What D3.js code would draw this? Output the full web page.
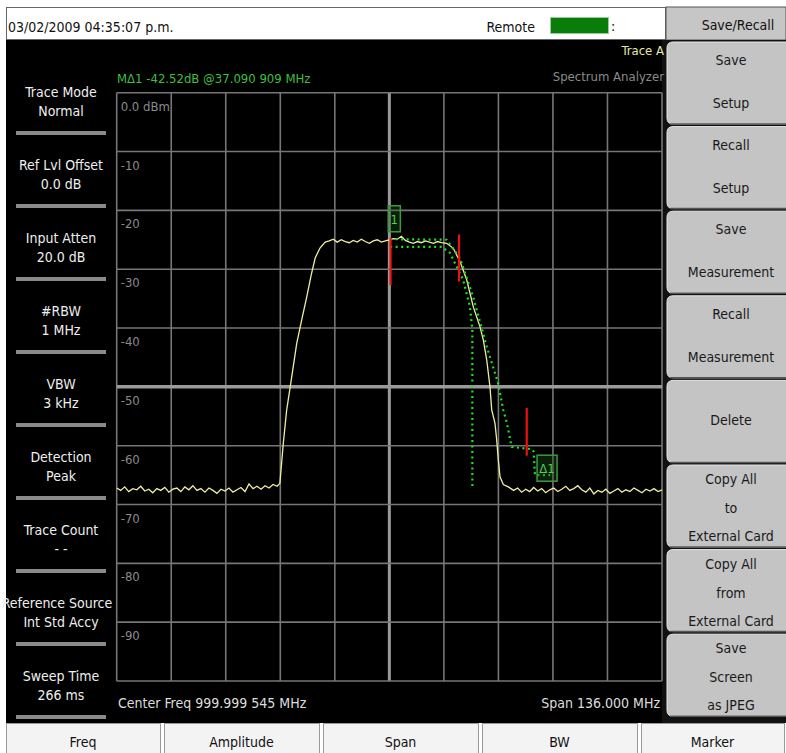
<!DOCTYPE html>
<html><head><meta charset="utf-8">
<script src="https://cdn.jsdelivr.net/npm/d3@7"></script>
<style>
html,body{margin:0;padding:0;background:#fff;}
svg{display:block;}
text{font-family:"Liberation Sans Narrow","Arial Narrow","DejaVu Sans Condensed",sans-serif;}
</style></head><body>
<svg id="c" width="786" height="753"></svg>
<script>
// ---------------- data ----------------
const dateText = "03/02/2009 04:35:07 p.m.";
const centerFreqMHz = 999.999545;
const spanMHz = 136.0;
const yTickValues = [0, -10, -20, -30, -40, -50, -60, -70, -80, -90];
const yTickLabels = ["0.0 dBm", "-10", "-20", "-30", "-40", "-50", "-60", "-70", "-80", "-90"];

// yellow trace: frequency offset from center (MHz) and amplitude (dBm)
const traceOffset = [
  -68,-67,-66,-65,-64,-63,-62,-61,-60,-59,-58,-57,-56,-55,-54,-53,-52,-51,-50,-49,
  -48,-47,-46,-45,-44,-43,-42,-41,-40,-39,-38,-37,-36,-35,-34,-33,-32,-31,-30,-29,-28,
  -27.3,-26.45,-25.6,-24.35,-23.1,-21.86,-20.6,-19.5,-18.5,-17.3,-16.0,
  -15,-14,-13,-12,-11,-10,-9,-8,-7,-6,-5,-4,-3,-2,-1,0,1,2,3,4,5,6,7,8,9,10,11,12,13,14.3,
  15.95,17.62,19.29,20.94,22.61,23.43,24.28,25.1,25.53,26.35,26.77,27.17,27.6,28.42,29.66,
  31,32,33,34,35,36,37,38,39,40,41,42,43,44,45,46,47,48,49,50,
  51,52,53,54,55,56,57,58,59,60,61,62,63,64,65,66,67,68
];
const traceAmp = [
  -67.2,-67.6,-67.0,-67.8,-67.3,-67.5,-66.9,-67.7,-67.4,-68.0,-67.3,-67.6,-67.1,-67.9,-67.4,-67.2,-67.8,-67.0,-67.5,-66.8,
  -67.6,-67.3,-67.9,-67.2,-67.6,-68.1,-67.4,-67.7,-67.2,-67.9,-67.5,-67.1,-67.8,-66.5,-67.3,-66.9,-67.4,-66.8,-67.2,-66.6,-66.9,
  -66.4,-59.6,-53.9,-48.3,-42.6,-38.6,-34.7,-31.0,-28.1,-26.4,-25.4,
  -25.2,-24.9,-25.4,-25.0,-25.3,-25.5,-25.1,-25.4,-24.9,-25.3,-25.6,-25.2,-25.0,-25.4,-25.2,-25.0,-24.8,-24.9,-24.4,-25.1,-25.4,-25.6,-25.3,-25.5,-25.2,-25.4,-25.6,-25.3,-25.5,-25.6,
  -26.45,-28.7,-31.8,-36.4,-39.8,-42.0,-45.4,-50.0,-53.9,-56.2,-59.0,-62.4,-65.3,-66.6,-67.0,
  -67.6,-67.2,-67.9,-67.4,-67.8,-67.1,-67.7,-67.3,-68.0,-67.5,-67.2,-67.8,-67.4,-66.9,-67.6,-67.3,-66.8,-67.5,-67.9,-67.2,
  -68.2,-67.6,-67.9,-67.4,-68.1,-67.7,-67.3,-67.9,-67.5,-67.8,-67.2,-67.6,-68.0,-67.4,-67.7,-67.3,-67.8,-67.5
];

// green dotted limit lines
const limitAOffset = [0.2, 14.3, 17.6, 20.9, 24.3, 27.1, 28.4, 29.3, 30.5, 35.5, 36.0, 36.3, 40.1];
const limitAAmp    = [-24.9, -25.0, -28.1, -34.7, -43.2, -49.3, -53.9, -56.1, -60.2, -60.6, -61.0, -65.0, -65.0];
const limitBOffset = [0.2, 13.0, 15.1, 16.8, 18.4, 20.1, 20.7, 20.7];
const limitBAmp    = [-26.2, -26.2, -27.2, -29.6, -31.8, -36.4, -40.3, -67.2];

// red marker bars
const barOffset = [0.3, 17.37, 34.26];
const barTop    = [-24.7, -24.1, -53.6];
const barBottom = [-32.7, -32.1, -61.7];

// markers
const markerNames  = ["1", "\u03941"];
const markerOffset = [0, 37.090909];
const markerAmp    = [-25.0, -67.4];
const markerReadout = "M\u03941 -42.52dB @37.090 909 MHz";

// left settings panel
const settingTitles = ["Trace Mode", "Ref Lvl Offset", "Input Atten", "#RBW", "VBW", "Detection", "Trace Count", "Reference Source", "Sweep Time"];
const settingValues = ["Normal", "0.0 dB", "20.0 dB", "1 MHz", "3 kHz", "Peak", "- -", "Int Std Accy", "266 ms"];

// right soft keys
const menuTitle = "Save/Recall";
const softKeys = [["Save", "Setup"], ["Recall", "Setup"], ["Save", "Measurement"], ["Recall", "Measurement"],
  ["Delete"], ["Copy All", "to", "External Card"], ["Copy All", "from", "External Card"], ["Save", "Screen", "as JPEG"]];
// bottom tabs
const tabNames = ["Freq", "Amplitude", "Span", "BW", "Marker"];

// ---------------- drawing ----------------
(function () {
const svg = d3.select("#c");
const W = 786, H = 753;
svg.append("rect").attr("width", W).attr("height", H).attr("fill", "#fff");

// black display area
svg.append("rect").attr("x", 6).attr("y", 40).attr("width", 660).attr("height", 683).attr("fill", "#000");

// top bar
svg.append("rect").attr("x", 6.5).attr("y", 7.5).attr("width", 659).attr("height", 32).attr("fill", "#fff").attr("stroke", "#666");
svg.append("text").attr("x", 8).attr("y", 32).attr("font-size", 14).attr("fill", "#111").text(dateText);
svg.append("text").attr("x", 535).attr("y", 32).attr("font-size", 14).attr("fill", "#111").attr("text-anchor", "end").text("Remote");
svg.append("rect").attr("x", 550.5).attr("y", 17.5).attr("width", 58).attr("height", 16).attr("fill", "#0a7c0a").attr("stroke", "#9c9");
svg.append("text").attr("x", 611).attr("y", 31).attr("font-size", 14).attr("fill", "#111").text(":");

// right panel
const rp = svg.append("g");
rp.append("rect").attr("x", 666).attr("y", 7).attr("width", 120).attr("height", 33).attr("fill", "#c6c6c6").attr("stroke", "#555");
rp.append("rect").attr("x", 662).attr("y", 40).attr("width", 124).attr("height", 683).attr("fill", "#111");
rp.append("text").attr("x", 738).attr("y", 30).attr("font-size", 14).attr("text-anchor", "middle").attr("fill", "#111").text(menuTitle);
const keyStep = 84.6, keyTop = 42;
const lineOffsets = {1: [40], 2: [18, 61], 3: [14, 43, 71]};
softKeys.forEach((lines, i) => {
  const y0 = keyTop + i * keyStep;
  const g = rp.append("g");
  g.append("path")
    .attr("d", `M${667 + 6},${y0} H790 V${y0 + 82} H${667 + 6} Q667,${y0 + 82} 667,${y0 + 76} V${y0 + 6} Q667,${y0} ${667 + 6},${y0} Z`)
    .attr("fill", "#c4c4c4").attr("stroke", "#e8e8e8").attr("stroke-width", 1);
  g.append("line").attr("x1", 670).attr("x2", 786).attr("y1", y0 + 82).attr("y2", y0 + 82).attr("stroke", "#555").attr("stroke-width", 1.5);
  lines.forEach((t, j) => {
    g.append("text").attr("x", 731).attr("y", y0 + lineOffsets[lines.length][j] + 5)
      .attr("font-size", 14).attr("text-anchor", "middle").attr("fill", "#1a1a1a").text(t);
  });
});

// bottom tabs
const tabEdges = [6, 162, 321, 480, 639, 786];
tabNames.forEach((t, i) => {
  const x0 = tabEdges[i] + (i ? 2 : 0), x1 = tabEdges[i + 1] - 2;
  svg.append("rect").attr("x", x0 + 0.5).attr("y", 723.5).attr("width", x1 - x0).attr("height", 30)
    .attr("fill", "#f3f3f3").attr("stroke", "#999");
  svg.append("text").attr("x", (x0 + x1) / 2).attr("y", 747).attr("font-size", 14).attr("text-anchor", "middle").attr("fill", "#111").text(t);
});

// left settings panel
settingTitles.forEach((t, i) => {
  const sep = 133 + i * 73;
  const cx = t.length > 14 ? 57 : 61;
  svg.append("text").attr("x", cx).attr("y", sep - 36).attr("font-size", 14).attr("text-anchor", "middle").attr("fill", "#eee").text(t);
  svg.append("text").attr("x", 61).attr("y", sep - 17).attr("font-size", 14).attr("text-anchor", "middle").attr("fill", "#eee").text(settingValues[i]);
  svg.append("rect").attr("x", 16).attr("y", sep - 2).attr("width", 90).attr("height", 4).attr("fill", "#8a8a8a");
});

// plot
const pLeft = 116.7, pRight = 662, pTop = 92.7, pBottom = 681;
const x = d3.scaleLinear().domain([-spanMHz / 2, spanMHz / 2]).range([pLeft, pRight]);
const y = d3.scaleLinear().domain([-100, 0]).range([pBottom, pTop]);
const plot = svg.append("g");
const xGrid = d3.range(0, 11).map(i => -spanMHz / 2 + i * spanMHz / 10);
const yGrid = d3.range(0, 11).map(i => -i * 10);
plot.selectAll(".vg").data(xGrid).join("line")
  .attr("x1", d => x(d)).attr("x2", d => x(d)).attr("y1", pTop).attr("y2", pBottom)
  .attr("stroke", d => Math.abs(d) < 1e-6 ? "#9a9a9a" : "#767676")
  .attr("stroke-width", d => Math.abs(d) < 1e-6 ? 3 : 1.6);
plot.selectAll(".hg").data(yGrid).join("line")
  .attr("y1", d => y(d)).attr("y2", d => y(d)).attr("x1", pLeft).attr("x2", pRight)
  .attr("stroke", d => d === -50 ? "#9a9a9a" : "#767676")
  .attr("stroke-width", d => d === -50 ? 3.5 : 1.6);
plot.selectAll(".yl").data(yTickValues).join("text")
  .attr("x", pLeft + 4).attr("y", d => y(d) + 18).attr("font-size", 13).attr("fill", "#8a8a8a")
  .text((d, i) => yTickLabels[i]);

svg.append("text").attr("x", 117).attr("y", 83).attr("font-size", 13).attr("fill", "#3fbf3f").text(markerReadout);
svg.append("text").attr("x", 664).attr("y", 55).attr("font-size", 13).attr("text-anchor", "end").attr("fill", "#e6e6a8").text("Trace A");
svg.append("text").attr("x", 664).attr("y", 81).attr("font-size", 13).attr("text-anchor", "end").attr("fill", "#8a8a8a").text("Spectrum Analyzer");
svg.append("text").attr("x", 118).attr("y", 708).attr("font-size", 14).attr("fill", "#ddd").text("Center Freq 999.999 545 MHz");
svg.append("text").attr("x", 660).attr("y", 708).attr("font-size", 14).attr("text-anchor", "end").attr("fill", "#ddd").text("Span 136.000 MHz");

const line = d3.line().x(d => x(d[0])).y(d => y(d[1]));
const limA = limitAOffset.map((o, i) => [o, limitAAmp[i]]);
const limB = limitBOffset.map((o, i) => [o, limitBAmp[i]]);
const trace = traceOffset.map((o, i) => [o, traceAmp[i]]);

plot.append("path").datum(trace).attr("d", line).attr("fill", "none").attr("stroke", "#eeeea0").attr("stroke-width", 1.3);
[limA, limB].forEach(l => {
  plot.append("path").datum(l).attr("d", line).attr("fill", "none").attr("stroke", "#1fe01f")
    .attr("stroke-width", 2.2).attr("stroke-dasharray", "2,3.5");
});
plot.selectAll(".bar").data(barOffset).join("line")
  .attr("x1", d => x(d)).attr("x2", d => x(d))
  .attr("y1", (d, i) => y(barTop[i])).attr("y2", (d, i) => y(barBottom[i]))
  .attr("stroke", "#ee1111").attr("stroke-width", 2.2);

markerNames.forEach((n, i) => {
  const mx = x(markerOffset[i]), my = y(markerAmp[i]);
  const w = n.length > 1 ? 20 : 12;
  plot.append("rect").attr("x", mx - 1).attr("y", my - 34).attr("width", w).attr("height", 26)
    .attr("fill", "rgba(30,90,30,0.35)").attr("stroke", "#3c9a3c").attr("stroke-width", 1.5);
  plot.append("text").attr("x", mx - 1 + w / 2).attr("y", my - 16).attr("font-size", 13)
    .attr("text-anchor", "middle").attr("fill", "#55cc55").text(n);
});
})();
</script>
</body></html>
